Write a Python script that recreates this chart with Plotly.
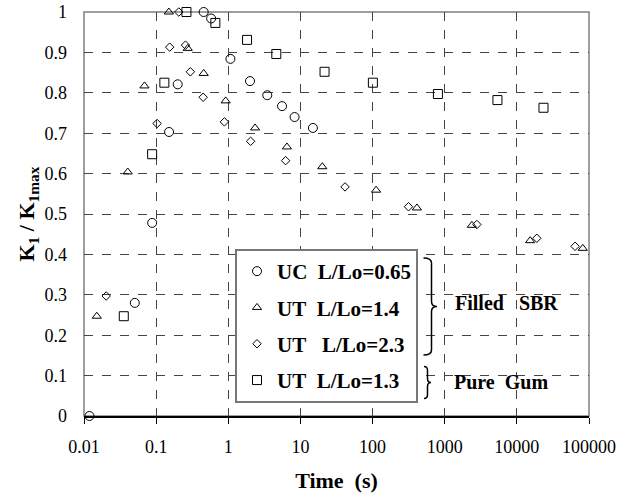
import plotly.graph_objects as go

# ---- data ----
uc065_t = [0.0119, 0.0506, 0.088, 0.151, 0.199, 0.456, 0.578, 1.07, 2.0, 3.47, 5.56, 8.3, 14.9]
uc065_k = [0.0, 0.280, 0.478, 0.703, 0.821, 1.0, 0.984, 0.884, 0.829, 0.794, 0.767, 0.740, 0.713]

ut14_t = [0.01504, 0.0404, 0.0689, 0.150, 0.274, 0.456, 0.92, 2.35, 6.5, 20.1, 112, 412, 2380, 15270, 82000]
ut14_k = [0.247, 0.604, 0.817, 1.0, 0.910, 0.848, 0.780, 0.713, 0.666, 0.617, 0.559, 0.515, 0.472, 0.434, 0.415]

ut23_t = [0.0203, 0.103, 0.154, 0.206, 0.255, 0.298, 0.448, 0.883, 2.04, 6.24, 41.5, 315, 2790, 18900, 64100]
ut23_k = [0.297, 0.724, 0.913, 1.0, 0.918, 0.852, 0.789, 0.728, 0.680, 0.632, 0.567, 0.518, 0.474, 0.440, 0.420]

ut13_t = [0.0356, 0.088, 0.130, 0.263, 0.662, 1.82, 4.63, 21.6, 101, 805, 5380, 23400]
ut13_k = [0.247, 0.648, 0.825, 1.0, 0.973, 0.931, 0.896, 0.852, 0.825, 0.797, 0.782, 0.763]

x_tickvals = [0.01, 0.1, 1, 10, 100, 1000, 10000, 100000]
x_ticktext = ["0.01", "0.1", "1", "10", "100", "1000", "10000", "100000"]

series_names = ["UC\u00a0\u00a0L/Lo=0.65", "UT\u00a0\u00a0L/Lo=1.4",
                "UT\u00a0\u00a0\u00a0L/Lo=2.3", "UT\u00a0\u00a0L/Lo=1.3"]

FONT = "Liberation Serif, Times New Roman, DejaVu Serif, serif"
W, H = 635, 494
ML, MR, MT, MB = 84, 46, 12, 78
PW, PH = W - ML - MR, H - MT - MB


def px2paper(x, y):
    return (x - ML) / PW, (MT + PH - y) / PH


fig = go.Figure()
specs = [
    (uc065_t, uc065_k, "circle-open", 9),
    (ut14_t, ut14_k, "triangle-up-open", 8),
    (ut23_t, ut23_k, "diamond-open", 6.5),
    (ut13_t, ut13_k, "square-open", 9),
]
for i, ((xs, ys, sym, sz), name) in enumerate(zip(specs, series_names)):
    fig.add_trace(go.Scatter(
        x=xs, y=ys, mode="markers", name=name, legendgroup=str(i),
        marker=dict(symbol=sym, size=sz, color="black", line=dict(color="black", width=1)),
        cliponaxis=False,
    ))

# braces
def brace(xl, xm, xt, ytop, ybot, r=5):
    ymid = (ytop + ybot) / 2
    pts = [
        ("M", [(xl, ytop)]),
        ("Q", [(xm, ytop), (xm, ytop + r)]),
        ("L", [(xm, ymid - r)]),
        ("Q", [(xm, ymid), (xt, ymid)]),
        ("Q", [(xm, ymid), (xm, ymid + r)]),
        ("L", [(xm, ybot - r)]),
        ("Q", [(xm, ybot), (xl, ybot)]),
    ]
    s = ""
    for cmd, ps in pts:
        s += cmd + " ".join("%.5f,%.5f" % px2paper(px, py) for px, py in ps) + " "
    return s.strip()

shapes = [
    dict(type="rect", xref="paper", yref="paper", x0=0, x1=1, y0=0, y1=1,
         line=dict(color="#808080", width=1.5), fillcolor="rgba(0,0,0,0)", layer="between"),
    dict(type="path", xref="paper", yref="paper", path=brace(423.5, 431.5, 437, 258, 355),
         line=dict(color="black", width=1.5)),
    dict(type="path", xref="paper", yref="paper", path=brace(424, 427.5, 431, 366.5, 398.5, r=4),
         line=dict(color="black", width=1.5)),
]

ax1, ay1 = px2paper(453, 303)
ax2, ay2 = px2paper(452, 382)
annotations = [
    dict(xref="paper", yref="paper", x=ax1, y=ay1, xanchor="left", yanchor="middle",
         text="<b>Filled\u00a0\u00a0\u00a0SBR</b>", showarrow=False,
         font=dict(family=FONT, size=20, color="black")),
    dict(xref="paper", yref="paper", x=ax2, y=ay2, xanchor="left", yanchor="middle",
         text="<b>Pure\u00a0\u00a0Gum</b>", showarrow=False,
         font=dict(family=FONT, size=20, color="black")),
]

lx, ly = px2paper(235, 249)

fig.update_layout(
    width=W, height=H,
    margin=dict(l=ML, r=MR, t=MT, b=MB, pad=0, autoexpand=False),
    paper_bgcolor="white", plot_bgcolor="white",
    font=dict(family=FONT, size=18, color="black"),
    showlegend=True,
    legend=dict(x=lx, y=ly, xanchor="left", yanchor="top",
                bgcolor="white", bordercolor="#777777", borderwidth=2,
                font=dict(family=FONT, size=21, color="black", weight="bold"),
                tracegroupgap=6, traceorder="grouped"),
    shapes=shapes,
    annotations=annotations,
    xaxis=dict(type="log", range=[-2, 5], tickvals=x_tickvals, ticktext=x_ticktext,
               showline=True, linecolor="black", linewidth=1.5, automargin=False,
               ticks="outside", ticklen=6, tickcolor="black", tickwidth=1,
               showgrid=True, gridcolor="#444444", gridwidth=1, griddash="dash",
               zeroline=False, ticklabelstandoff=8,
               tickfont=dict(family=FONT, size=18, color="black"),
               title=dict(text="<b>Time\u00a0\u00a0(s)</b>", standoff=16,
                          font=dict(family=FONT, size=22, color="black"))),
    yaxis=dict(range=[0, 1], dtick=0.1, tick0=0, automargin=False,
               showline=False, ticks="", showgrid=True, gridcolor="#444444", gridwidth=1,
               griddash="dash", zeroline=False, ticklabelstandoff=16,
               tickfont=dict(family=FONT, size=18, color="black"),
               title=dict(text="<b>K<sub>1</sub> / K<sub>1max</sub></b>", standoff=3,
                          font=dict(family=FONT, size=22, color="black"))),
    yaxis2=dict(range=[0, 1], dtick=0.1, tick0=0, overlaying="y", anchor="free",
                position=2 / 7, side="left", showline=True, linecolor="black", linewidth=1.5,
                ticks="outside", ticklen=7, tickcolor="black", showticklabels=False,
                showgrid=False, zeroline=False, automargin=False),
)

fig.write_html("out.html")
